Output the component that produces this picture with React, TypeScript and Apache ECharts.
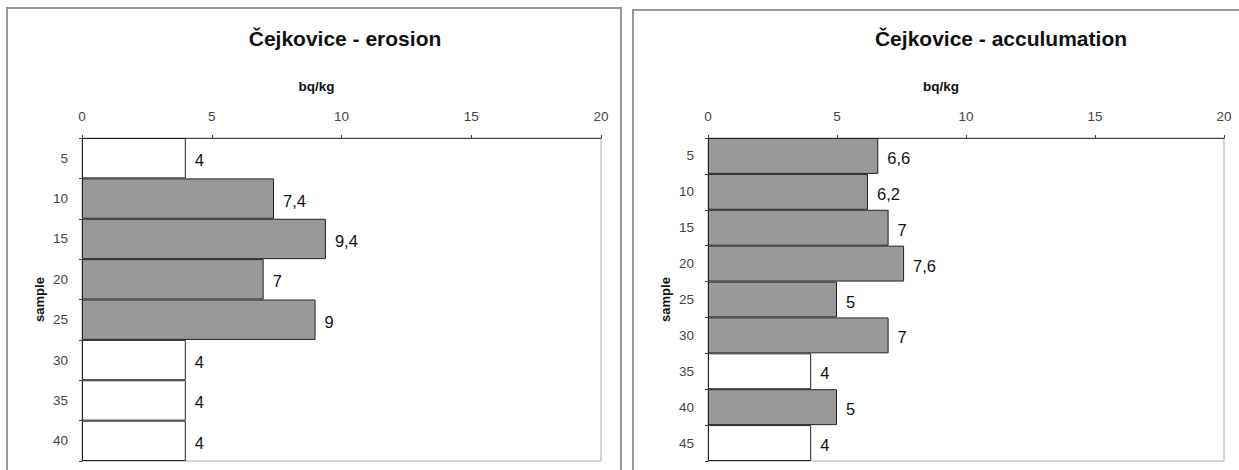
import React, { useEffect, useRef } from "react";
import * as echarts from "echarts";

const erosionSamples = ["5", "10", "15", "20", "25", "30", "35", "40"];
const erosionValues = [4, 7.4, 9.4, 7, 9, 4, 4, 4];
const accumSamples = ["5", "10", "15", "20", "25", "30", "35", "40", "45"];
const accumValues = [6.6, 6.2, 7, 7.6, 5, 7, 4, 5, 4];
const detectionLimit = 4;
const titles = ["Čejkovice - erosion", "Čejkovice - acculumation"];

const FONT = "'Liberation Sans', Arial, sans-serif";

export default function App() {
  const ref = useRef<HTMLDivElement>(null);
  useEffect(() => {
    if (!ref.current) return;
    const chart = echarts.init(ref.current, null, { renderer: "svg" });
    const grids = [
      { left: 82, top: 138, width: 519, height: 323 },
      { left: 708, top: 138, width: 516, height: 323 },
    ];
    const cats = [erosionSamples, accumSamples];
    const vals = [erosionValues, accumValues];
    const fmt = (v: number) => String(v).replace(".", ",");
    chart.setOption({
      animation: false,
      backgroundColor: "#fff",
      title: [0, 1].map((i) => ({
        text: titles[i],
        left: i === 0 ? 340 : 996,
        top: 23,
        textAlign: "center",
        textStyle: { fontFamily: FONT, fontSize: 21, fontWeight: "bold", color: "#111" },
      })),
      graphic: [
        { type: "rect", shape: { x: 7, y: 8, width: 614, height: 470 }, style: { fill: "none", stroke: "#999", lineWidth: 2 }, silent: true },
        { type: "rect", shape: { x: 633, y: 10, width: 620, height: 470 }, style: { fill: "none", stroke: "#999", lineWidth: 2 }, silent: true },
      ],
      grid: grids.map((g) => ({ ...g, show: true, borderColor: "#aaa", borderWidth: 1, backgroundColor: "#fff" })),
      xAxis: [0, 1].map((i) => ({
        type: "value",
        gridIndex: i,
        position: "top",
        min: 0,
        max: 20,
        interval: 5,
        name: "bq/kg",
        nameLocation: "middle",
        nameGap: 45,
        nameTextStyle: { fontFamily: FONT, fontSize: 13.5, fontWeight: "bold", color: "#111", padding: [0, 50, 0, 0] },
        axisLine: { show: true, lineStyle: { color: "#444", width: 1 } },
        axisTick: { show: true, length: 3, lineStyle: { color: "#444" } },
        axisLabel: { fontFamily: FONT, fontSize: 13.5, color: "#444", margin: 15 },
        splitLine: { show: false },
      })),
      yAxis: [0, 1].map((i) => ({
        type: "category",
        gridIndex: i,
        inverse: true,
        data: cats[i],
        name: "sample",
        nameLocation: "middle",
        nameGap: 36,
        nameRotate: 90,
        nameTextStyle: { fontFamily: FONT, fontSize: 13, fontWeight: "bold", color: "#111" },
        axisLine: { show: true, lineStyle: { color: "#444", width: 1 } },
        axisTick: { show: true, length: 3, lineStyle: { color: "#444" } },
        axisLabel: { fontFamily: FONT, fontSize: 13.5, color: "#444", margin: 14 },
      })),
      series: [0, 1].map((i) => ({
        type: "bar",
        xAxisIndex: i,
        yAxisIndex: i,
        data: vals[i],
        barCategoryGap: "0%",
        itemStyle: {
          color: (p: any) => (p.value === detectionLimit ? "#ffffff" : "#999999"),
          borderColor: "#222",
          borderWidth: 1,
        },
        label: {
          show: true,
          position: "right",
          distance: 9,
          offset: [0, 2],
          formatter: (p: any) => fmt(p.value),
          fontFamily: FONT,
          fontSize: 16.5,
          color: "#111",
        },
      })),
    });
    return () => chart.dispose();
  }, []);
  return <div ref={ref} style={{ position: "fixed", left: 0, top: 0, width: 1239, height: 470 }} />;
}
